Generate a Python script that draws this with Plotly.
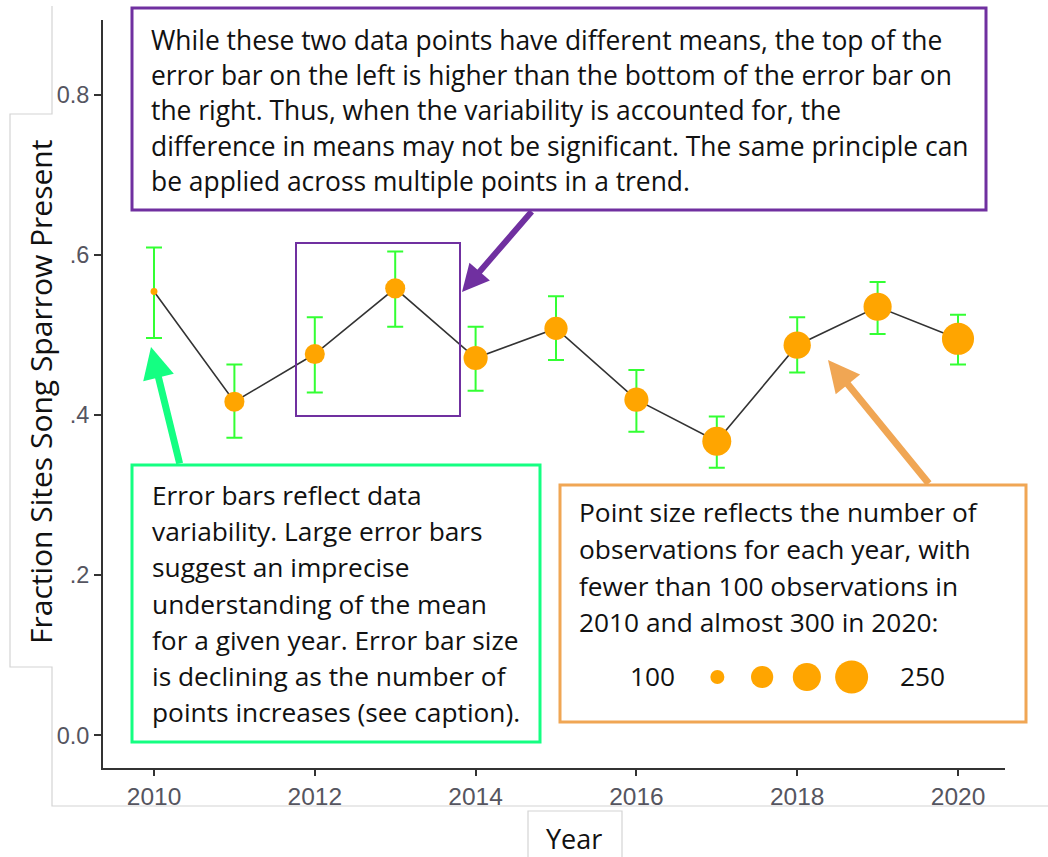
import math
import plotly.graph_objects as go

# ---- data -------------------------------------------------------------
years = list(range(2010, 2021))
mean_frac = [0.554, 0.4165, 0.476, 0.558, 0.471, 0.508, 0.419, 0.367, 0.487, 0.535, 0.495]
upper_frac = [0.609, 0.463, 0.522, 0.604, 0.510, 0.548, 0.456, 0.398, 0.522, 0.566, 0.525]
lower_frac = [0.496, 0.3715, 0.428, 0.510, 0.430, 0.4685, 0.379, 0.334, 0.453, 0.501, 0.463]
n_obs = [75, 135, 135, 135, 165, 158, 165, 208, 192, 200, 240]

size_legend_values = [100, 150, 200, 250]

x_ticks = [2010, 2012, 2014, 2016, 2018, 2020]
y_ticks = [0.0, 0.2, 0.4, 0.6, 0.8]
y_ticktext = ["0.0", ".2", ".4", ".6", "0.8"]

purple_lines = [
    "While these two data points have different means, the top of the",
    "error bar on the left is higher than the bottom of the error bar on",
    "the right. Thus, when the variability is accounted for, the",
    "difference in means may not be significant. The same principle can",
    "be applied across multiple points in a trend.",
]
green_lines = [
    "Error bars reflect data",
    "variability. Large error bars",
    "suggest an imprecise",
    "understanding of the mean",
    "for a given year. Error bar size",
    "is declining as the number of",
    "points increases (see caption).",
]
orange_lines = [
    "Point size reflects the number of",
    "observations for each year, with",
    "fewer than 100 observations in",
    "2010 and almost 300 in 2020:",
]

# ---- page geometry ---------------------------------------------------
W, H = 1048, 857
ML, MR, MT, MB = 103, 43, 20, 89
PW, PH = W - ML - MR, H - MT - MB


def px(x):
    return (x - ML) / PW


def py(y):
    return (H - MB - y) / PH


def point_size(n):
    # marker area grows linearly with the number of observations
    return math.sqrt(max(5.95 * n - 399.0, 40.0))


PURPLE = "#7030a0"
GREEN = "#14ff82"
ORANGE_LINE = "#f0a654"
MARKER = "#ffa500"
ERR = "#33ff33"
TICK_GRAY = "#555560"
BODY_FONT = "Open Sans, Noto Sans, sans-serif"

fig = go.Figure()

fig.add_trace(go.Scatter(
    x=years, y=mean_frac, mode="lines+markers",
    line=dict(color="#333333", width=1.6),
    marker=dict(color=MARKER, opacity=1, size=[point_size(n) for n in n_obs], line=dict(width=0)),
    error_y=dict(type="data", symmetric=False,
                 array=[u - m for u, m in zip(upper_frac, mean_frac)],
                 arrayminus=[m - l for m, l in zip(mean_frac, lower_frac)],
                 color=ERR, thickness=2, width=8),
    showlegend=False, hoverinfo="skip",
))

# size key inside the orange box
fig.add_trace(go.Scatter(
    x=list(range(len(size_legend_values))), y=[0] * len(size_legend_values),
    xaxis="x2", yaxis="y2", mode="markers",
    marker=dict(color=MARKER, opacity=1, size=[point_size(v) for v in size_legend_values],
                line=dict(width=0)),
    showlegend=False, hoverinfo="skip",
))

shapes = []
annotations = []

# outline of the pasted chart panel and axis-title tiles
shapes.append(dict(type="path", xref="paper", yref="paper",
                   path=f"M{px(52)},{py(6)} L{px(52)},{py(114)} L{px(10)},{py(114)} "
                        f"L{px(10)},{py(667)} L{px(52)},{py(667)} L{px(52)},{py(806)} L{px(1048)},{py(806)}",
                   line=dict(color="#d4d4d4", width=1.2)))
shapes.append(dict(type="path", xref="paper", yref="paper",
                   path=f"M{px(528)},{py(857)} L{px(528)},{py(811)} L{px(622)},{py(811)} L{px(622)},{py(857)}",
                   line=dict(color="#d4d4d4", width=1.2)))


def box(x0, y0, x1, y1, color, width=3):
    shapes.append(dict(type="rect", xref="paper", yref="paper",
                       x0=px(x0), x1=px(x1), y0=py(y1), y1=py(y0),
                       line=dict(color=color, width=width),
                       fillcolor="rgba(0,0,0,0)", layer="above"))


box(132, 8, 986, 210, PURPLE)
box(296, 243, 460, 416, PURPLE, width=2)
box(132, 465, 540, 742, GREEN)
box(560, 485, 1026, 722, ORANGE_LINE)


def text_lines(lines, x, y_first, step, size, font):
    for i, t in enumerate(lines):
        annotations.append(dict(text=t, xref="paper", yref="paper",
                                x=px(x), y=py(y_first + i * step),
                                xanchor="left", yanchor="middle", showarrow=False,
                                font=dict(family=font, size=size, color="#111111")))


text_lines(purple_lines, 149, 40, 35.2, 26.4, BODY_FONT)
text_lines(green_lines, 150, 495, 36.2, 26.3, BODY_FONT)
text_lines(orange_lines, 577, 512, 36.8, 26.3, BODY_FONT)

for label, xc in zip(["100", "250"], [652, 922]):
    annotations.append(dict(text=label, xref="paper", yref="paper", x=px(xc), y=py(676),
                            xanchor="center", yanchor="middle", showarrow=False,
                            font=dict(family=BODY_FONT, size=26.3, color="#111111")))


def arrow(tip, tail, color, width):
    annotations.append(dict(text="", xref="paper", yref="paper",
                            x=px(tip[0]), y=py(tip[1]),
                            ax=tail[0] - tip[0], ay=tail[1] - tip[1],
                            axref="pixel", ayref="pixel",
                            showarrow=True, arrowhead=2, arrowsize=0.9,
                            arrowwidth=width, arrowcolor=color, standoff=0))


arrow((462, 292), (533, 210), PURPLE, 6)
arrow((151, 347), (180, 465), GREEN, 7)
arrow((828, 360), (930, 485), ORANGE_LINE, 7)

# axis titles
annotations.append(dict(text="Fraction Sites Song Sparrow Present", xref="paper", yref="paper",
                        x=px(40), y=py(392), textangle=-90, showarrow=False,
                        xanchor="center", yanchor="middle",
                        font=dict(family=BODY_FONT, size=30, color="#111111")))
annotations.append(dict(text="Year", xref="paper", yref="paper",
                        x=px(574), y=py(838), showarrow=False,
                        xanchor="center", yanchor="middle",
                        font=dict(family=BODY_FONT, size=27, color="#111111")))

x_left = 2010 - (154 - ML) / 80.4
x_right = 2010 + (1005 - 154) / 80.4
y_bottom = (735.3 - (H - MB)) / 801.0
y_top = (735.3 - MT) / 801.0

TICK_FONT = dict(family="Liberation Sans, Arial, sans-serif", size=23.5, color=TICK_GRAY)

fig.update_layout(
    width=W, height=H,
    margin=dict(l=ML, r=MR, t=MT, b=MB),
    paper_bgcolor="white", plot_bgcolor="rgba(0,0,0,0)",
    shapes=shapes, annotations=annotations,
    xaxis=dict(range=[x_left, x_right], tickvals=x_ticks, ticks="outside", ticklen=6,
               tickwidth=1.5, tickcolor="#333333", showline=True, linecolor="#333333",
               linewidth=2, showgrid=False, zeroline=False,
               tickfont=dict(family="Liberation Sans, Arial, sans-serif", size=24.5, color=TICK_GRAY)),
    yaxis=dict(range=[y_bottom, y_top], tickvals=y_ticks, ticktext=y_ticktext, ticks="outside",
               ticklen=7, tickwidth=1.5, tickcolor="#333333", showline=True, linecolor="#333333",
               linewidth=2, showgrid=False, zeroline=False, tickfont=TICK_FONT),
    xaxis2=dict(domain=[px(695), px(874)], range=[-0.5, 3.5], anchor="y2", visible=False),
    yaxis2=dict(domain=[py(697), py(657)], range=[-1, 1], anchor="x2", visible=False),
)

fig.write_html("out.html")
